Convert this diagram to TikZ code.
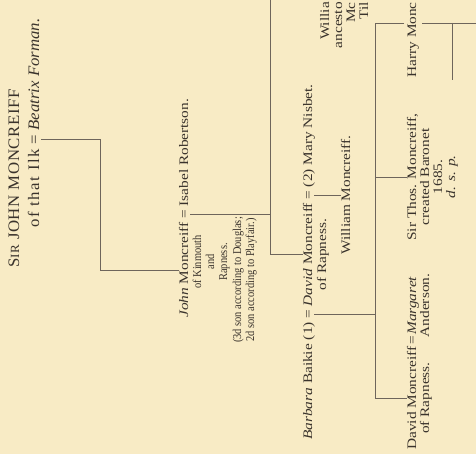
\documentclass[tikz,border=0pt]{standalone}
\usepackage{xcolor}
\usepackage{fontspec}
\usepackage{tikz}
\usetikzlibrary{calc}
\setmainfont{Liberation Serif}
\newfontfamily\headfont[FakeStretch=1.05]{Liberation Serif}
\newfontfamily\namefont[FakeStretch=1.18]{Liberation Serif}
\newfontfamily\notefont[FakeStretch=0.87]{Liberation Serif}
\definecolor{paper}{HTML}{F8EBC5}
\definecolor{ink}{HTML}{3A332C}
\definecolor{rule}{HTML}{6E655B}
\newcommand{\eqs}{\kern.25em=\kern.25em}
\tikzset{
  txt/.style={rotate=90, inner sep=0pt, text=ink, font=\namefont\fontsize{13}{13.3}\selectfont},
  head/.style={txt, font=\headfont\fontsize{16}{18}\selectfont},
  note/.style={txt, font=\notefont\fontsize{12}{13.3}\selectfont},
  link/.style={draw=rule, line width=0.6pt},
}

\begin{document}
\begin{tikzpicture}[x=1pt,y=-1pt]
        \useasboundingbox (0,0) rectangle (476,454);
        \clip (0,0) rectangle (476,454);
        \fill[paper] (0,0) rectangle (476,454);

        \node[head, anchor=base west] (sj) at (19,268) {\addfontfeature{LetterSpace=4}S{\fontsize{12.5}{14}\selectfont IR} JOHN MONCREIFF};
        \node[head, anchor=base west] (ilk) at (39,228) {\addfontfeature{LetterSpace=10}of that Ilk};
        \node[head, anchor=base west] (e1) at (ilk.base east) {\eqs};
        \node[head, anchor=base west] (bf) at (e1.base east) {\textit{Beatrix Forman.}};

        \node[txt, anchor=base west] (jm) at (188,318) {\textit{John} Moncreiff};
        \node[txt, anchor=base west] (e2) at (jm.base east) {\eqs};
        \node[txt, anchor=base west] (ir) at (e2.base east) {Isabel Robertson.};
        \node[note, anchor=base] (k1) at (201,262) {of Kinmouth};
        \node[note, anchor=base] (k2) at (214,262) {and};
        \node[note, anchor=base] (k3) at (227,262) {Rapness.};
        \node[note, anchor=base] (k4) at (241,280) {(3d son according to Douglas;};
        \node[note, anchor=base] (k5) at (254,280) {2d son according to Playfair.)};

        \node[txt, anchor=base west] (bk) at (312,440) {\textit{Barbara} Baikie (1)};
        \node[txt, anchor=base west] (e3) at (bk.base east) {\eqs};
        \node[txt, anchor=base west] (dm) at (e3.base east) {\textit{David} Moncreiff};
        \node[txt, anchor=base west] (e4) at (dm.base east) {\eqs};
        \node[txt, anchor=base west] (mn) at (e4.base east) {(2) Mary Nisbet.};
        \node[txt, anchor=base] (dr) at ($(dm.base)+(14,0)$) {of Rapness.};

        \coordinate (wcol) at (350,0);
        \node[txt, anchor=base] (wm) at (e4.base -| wcol) {William Moncreiff.};

        \node[txt, anchor=base east] (w1) at (329,2) {Willia};
        \node[txt, anchor=base east] (w2) at (342,2) {ancesto};
        \node[txt, anchor=base east] (w3) at (355,2) {Mc};
        \node[txt, anchor=base east] (w4) at (368,2) {Til};

        \node[txt, anchor=base west] (dj) at (416,450) {David Moncreiff};
        \node[txt, anchor=base west] (e5) at (dj.base east) {\kern.1em=\kern.1em};
        \node[txt, anchor=base west] (ma) at (e5.base east) {\textit{Margaret}};
        \node[txt, anchor=base] (d2) at ($(dj.base)+(13,0)$) {of Rapness.};
        \node[txt, anchor=base] (an) at ($(ma.base)+(13,0)$) {Anderson.};

        \node[txt, anchor=base] (st) at (416,177) {Sir Thos. Moncreiff,};
        \node[txt, anchor=base] (s2) at (429,177) {created Baronet};
        \node[txt, anchor=base] (s3) at (442,177) {1685.};
        \node[txt, anchor=base] (s4) at (455,177) {\textit{d. s. p.}};

        \node[txt, anchor=base east] (hm) at (416,2) {Harry Monc};

        \coordinate (barA) at (100,0);
        \coordinate (barB) at (270,0);
        \coordinate (barC) at (375,0);
        \coordinate (hj) at (404,23);
        \coordinate (hs) at (422,23);
        \coordinate (he) at (476,23);
        \coordinate (hv) at (452,80);

        \draw[link] ([xshift=2pt]e1.south) -- (e1.south -| barA) |- (jm.north);
        \draw[link] ([xshift=2pt]e2.south) -- (e2.south -| barB);
        \draw[link] (barB) |- (dm.north);
        \draw[link] ([xshift=2pt]e4.south) -- (wm.north);
        \draw[link] ([xshift=2pt]e3.south) -- (e3.south -| barC);
        \draw[link] (hj) -| (barC |- dj.north) -- (dj.north);
        \draw[link] (st.north) -- (st.north -| barC);
        \draw[link] (hs) -- (he);
        \draw[link] (hs -| hv) -- (hv);
    \end{tikzpicture}
\end{document}
